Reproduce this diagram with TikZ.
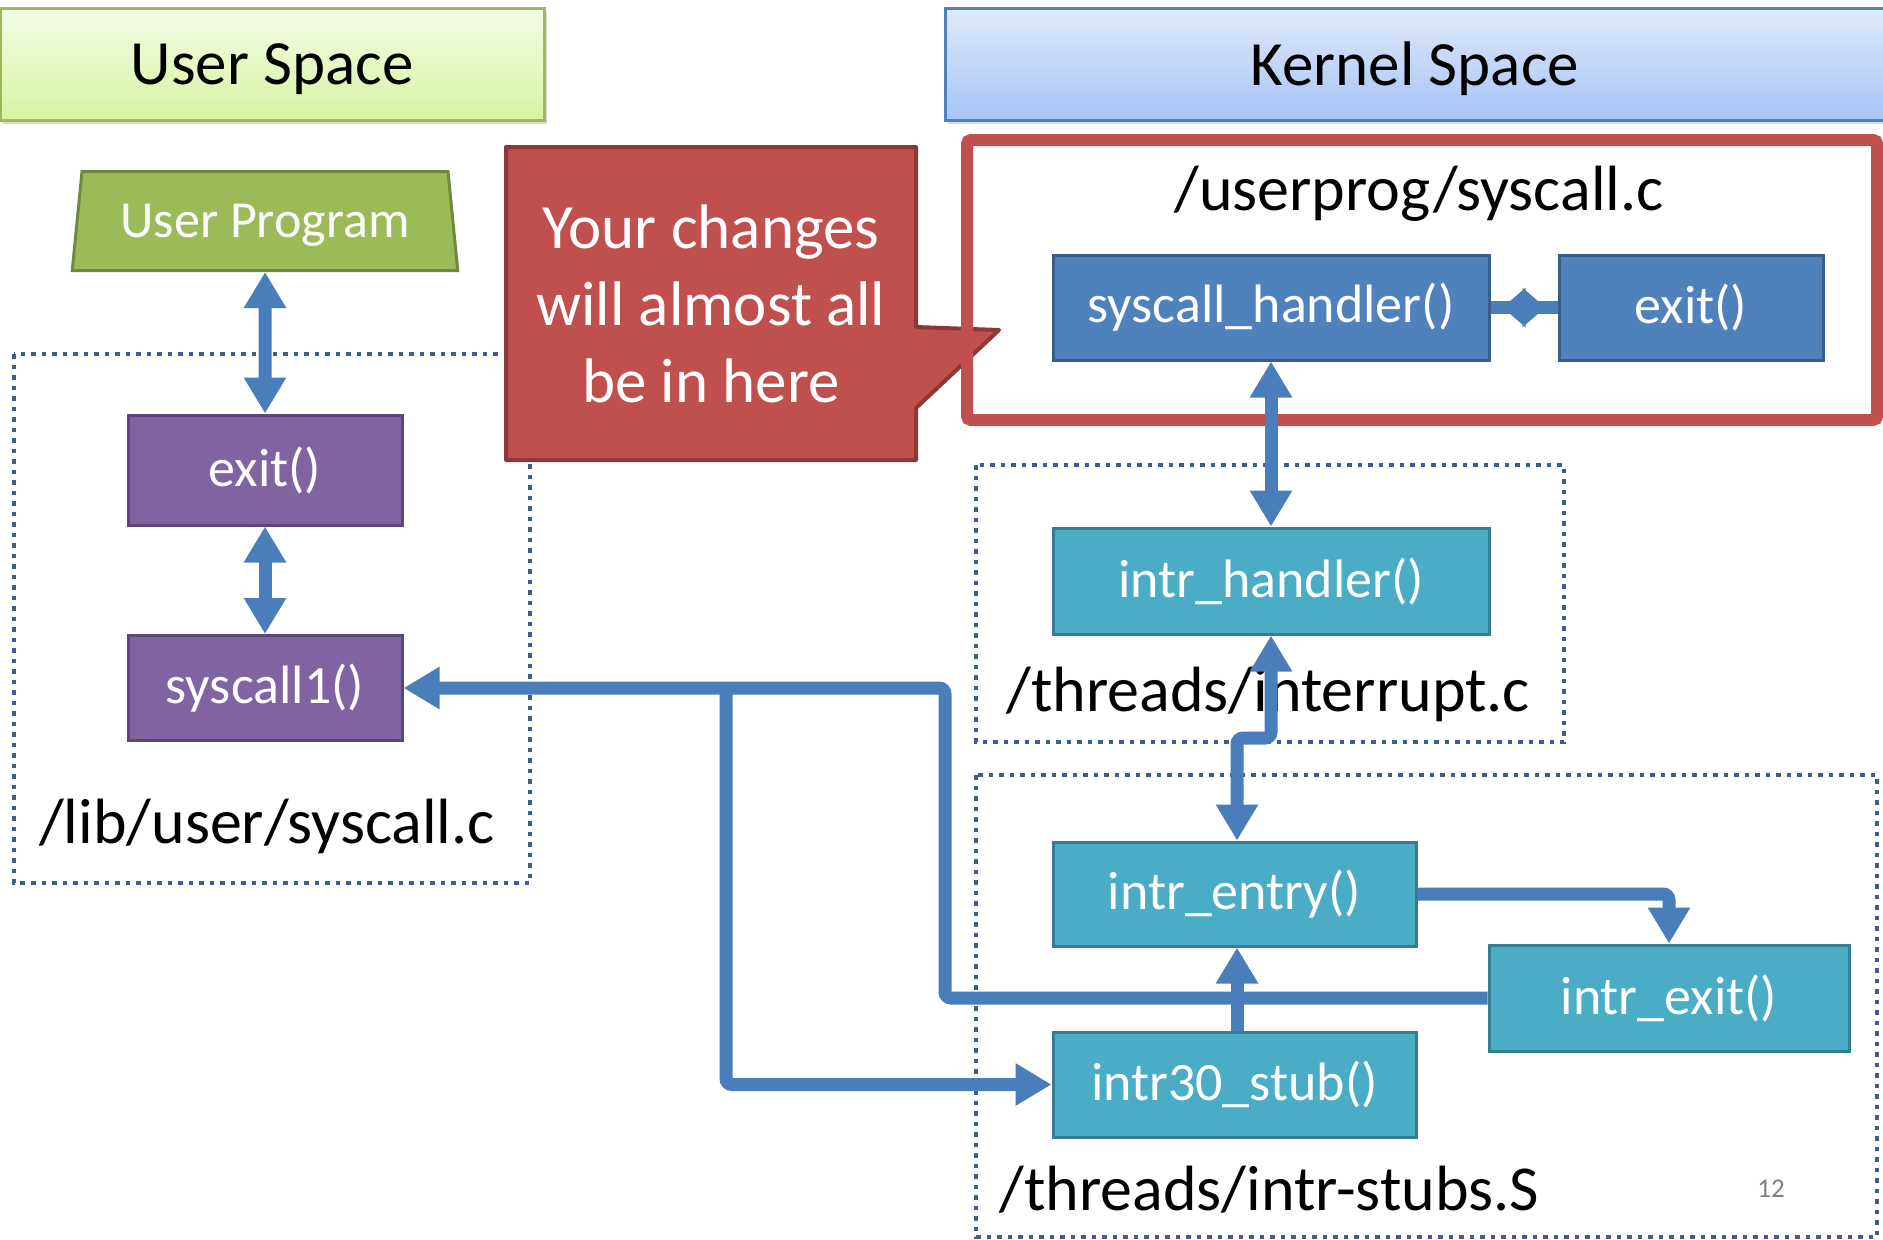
\documentclass[tikz,border=0pt]{standalone}
\usepackage{fontspec}
\setmainfont{Carlito}
\usepackage{tikz}
\usetikzlibrary{arrows.meta,positioning,calc,shapes.geometric,shadows}
\definecolor{flowblue}{HTML}{4A7EBB}
\definecolor{groupblue}{HTML}{3B5E8C}
\definecolor{purplefill}{HTML}{8064A2}
\definecolor{purpleline}{HTML}{5C4776}
\definecolor{bluefill}{HTML}{4F81BD}
\definecolor{blueline}{HTML}{385D8A}
\definecolor{tealfill}{HTML}{4BACC6}
\definecolor{tealline}{HTML}{357D91}
\definecolor{greenfill}{HTML}{9BBB59}
\definecolor{greenline}{HTML}{71893F}
\definecolor{redfill}{HTML}{C0504D}
\definecolor{redline}{HTML}{8C3836}
\definecolor{usertop}{HTML}{F4FCE6}
\definecolor{userbottom}{HTML}{D7F4A2}
\definecolor{kerntop}{HTML}{DFE9FB}
\definecolor{kernbottom}{HTML}{A6C4F6}
\tikzstyle{func}=[draw,line width=1.5pt,inner sep=0pt,text=white,font=\fontsize{27}{32}\selectfont]
\tikzstyle{userfunc}=[func,fill=purplefill,draw=purpleline]
\tikzstyle{kernfunc}=[func,fill=bluefill,draw=blueline]
\tikzstyle{stubfunc}=[func,fill=tealfill,draw=tealline]
\tikzstyle{group}=[draw=groupblue,line width=2.25pt,dash pattern=on 2.25pt off 3pt]
\tikzstyle{flow}=[draw=flowblue,line width=6.5pt,rounded corners=3pt]
\tikzstyle{filelabel}=[font=\fontsize{32}{38}\selectfont,inner sep=0pt]
\tikzstyle{header}=[line width=1.5pt,inner sep=0pt,text depth=0pt,font=\fontsize{31.5}{38}\selectfont,
  drop shadow={opacity=0.3,shadow xshift=1.5pt,shadow yshift=-2pt}]

\begin{document}
\begin{tikzpicture}[x=0.5pt,y=-0.5pt,>={Triangle[length=18pt,width=20pt]}]
\useasboundingbox (0,0) rectangle (1883,1239);

% headers
\node [header,draw=greenfill,top color=usertop,bottom color=userbottom,
  minimum width=272pt,minimum height=56pt] (userspace) at (272,64) {User Space};
\node [header,draw=bluefill,top color=kerntop,bottom color=kernbottom,
  minimum width=470pt,minimum height=56pt] (kernelspace) at (1415,64) {Kernel Space};

% user side
\draw [group] (14,354) rectangle (530,883);
\node [trapezium,trapezium left angle=77,trapezium right angle=77,trapezium stretches=true,
  minimum width=193pt,minimum height=49.5pt,inner sep=0pt,text depth=0pt,fill=greenfill,draw=greenline,
  line width=1.5pt,text=white,font=\fontsize{26}{30}\selectfont] (userprog) at (265,221) {User Program};
\node [userfunc,minimum width=137pt,minimum height=55pt] (uexit) at (265,470) {exit()};
\node [userfunc,minimum width=137pt,minimum height=52.5pt] (syscall1) at (265,688) {syscall1()};
\node [filelabel] (libsyscall) at (267,826) {/lib/user/syscall.c};

% callout
\draw [fill=redfill,draw=redline,line width=2pt,line join=round]
  (506,147) -- (916,147) -- (916,327) -- (999,330) -- (916,408) -- (916,460) -- (506,460) -- cycle;
\node [text=white,align=center,font=\fontsize{31.5}{38.5}\selectfont] (callout) at (711,304)
  {Your changes\\will almost all\\be in here};

% kernel side
\draw [draw=redfill,line width=6pt,rounded corners=2pt] (967,140) rectangle (1877,420);
\node [filelabel] (usersyscall) at (1419,194) {/userprog/syscall.c};
\node [kernfunc,minimum width=218pt,minimum height=52.5pt] (handler) at (1271,307.5) {syscall\_handler()};
\node [kernfunc,minimum width=132pt,minimum height=52.5pt] (kexit) at (1691,307.5) {exit()};

\draw [group] (976,465) rectangle (1564,742);
\node [stubfunc,minimum width=218pt,minimum height=53pt] (intrhandler) at (1271,581) {intr\_handler()};
\node [filelabel,anchor=west] (interrupt) at (1006,694) {/threads/interrupt.c};

\draw [group] (976,775) rectangle (1877,1237);
\node [stubfunc,minimum width=181.5pt,minimum height=52pt] (intrentry) at (1234.5,894) {intr\_entry()};
\node [stubfunc,minimum width=180pt,minimum height=53pt] (intrexit) at (1669,998) {intr\_exit()};
\node [stubfunc,minimum width=181.5pt,minimum height=52.5pt] (intrstub) at (1234.5,1084.5) {intr30\_stub()};
\node [filelabel,anchor=west] (stubs) at (999,1190) {/threads/intr-stubs.S};
\node [text=gray,font=\fontsize{13.5}{16}\selectfont] (pagenum) at (1771,1189) {12};

% connectors
\coordinate (jog) at (1237,738);
\coordinate (ret) at (945,690);
\coordinate (fork) at (726,690);
\coordinate (hmid) at ($(handler.east)!0.5!(kexit.west)$);
\draw [flow,<->] (userprog.south) -- (uexit.north);
\draw [flow,<->] (uexit.south) -- (syscall1.north);
\draw [flow] (handler.east) -- (kexit.west);
\draw [flow,->,>={Triangle[length=11.5pt,width=19pt]},shorten >=6pt] (hmid) -- (handler.east);
\draw [flow,->,>={Triangle[length=11.5pt,width=19pt]},shorten >=6pt] (hmid) -- (kexit.west);
\draw [flow,<->] (handler.south) -- (intrhandler.north);
\draw [flow,<->] (intrhandler.south) -- (intrhandler.south |- jog) -- (jog) -- (jog |- intrentry.north);
\draw [flow,->] (jog |- intrstub.north) -- (jog |- intrentry.south);
\draw [flow,->] (intrentry.east) -| (intrexit.north);
\draw [flow,->] (intrexit.west) -| (ret |- syscall1.east) -- (syscall1.east);
\draw [flow,->] (fork |- syscall1.east) |- (intrstub.west);
\end{tikzpicture}
\end{document}
